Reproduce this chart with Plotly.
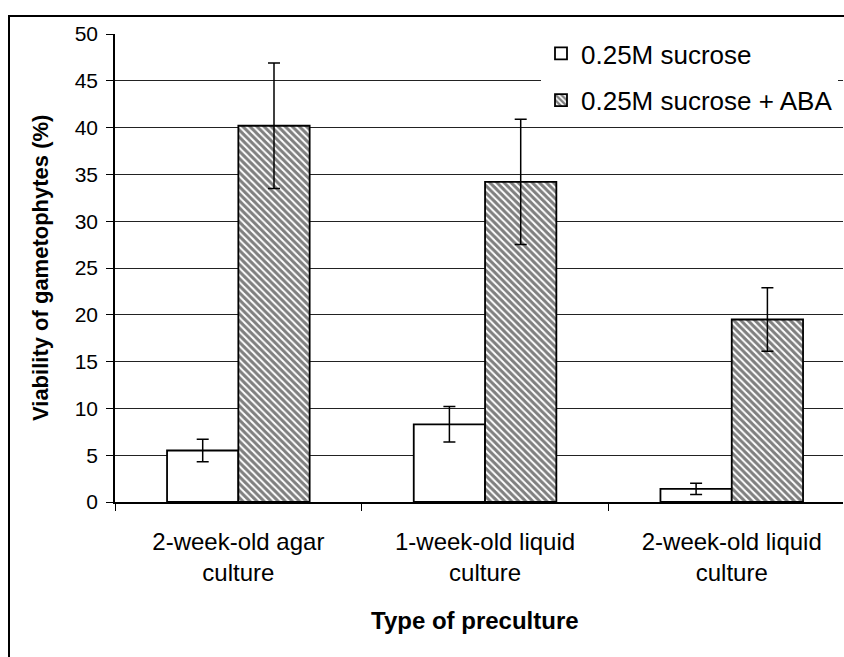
import plotly.graph_objects as go

# Preculture types and viability (%) with error values
categories = ["2-week-old agar<br>culture", "1-week-old liquid<br>culture", "2-week-old liquid<br>culture"]
sucrose = [5.5, 8.3, 1.4]
sucrose_err = [1.2, 1.9, 0.6]
sucrose_aba = [40.2, 34.2, 19.5]
sucrose_aba_err = [6.7, 6.7, 3.4]
y_ticks = [0, 5, 10, 15, 20, 25, 30, 35, 40, 45, 50]

FONT = "Arial, Liberation Sans, sans-serif"
W, H = 844, 657
ML, MR, MT, MB = 115, 1, 34, 155
PW = W - ML - MR
PH = H - MT - MB
CAT_PX = 246.7  # pixel width of one category slot

fig = go.Figure()
fig.add_trace(go.Bar(
    x=categories, y=sucrose, name="0.25M sucrose", legendgroup="a",
    marker=dict(color="white", line=dict(color="black", width=1.8)),
    error_y=dict(type="data", array=sucrose_err, color="black", thickness=1.5, width=6),
))
fig.add_trace(go.Bar(
    x=categories, y=sucrose_aba, name="0.25M sucrose + ABA", legendgroup="b",
    marker=dict(color="white", line=dict(color="black", width=1.8),
                pattern=dict(shape="\\", fgcolor="black", bgcolor="white", size=5, solidity=0.6)),
    error_y=dict(type="data", array=sucrose_aba_err, color="black", thickness=1.5, width=6),
))

def px_x(px):
    return (px - ML) / PW

def px_y(py):
    return (H - MB - py) / PH

fig.update_layout(
    width=W, height=H,
    margin=dict(l=ML, r=MR, t=MT, b=MB, autoexpand=False),
    paper_bgcolor="white", plot_bgcolor="white",
    barmode="group", bargap=0.422, bargroupgap=0,
    font=dict(family=FONT, color="black"),
    showlegend=True,
    legend=dict(x=px_x(541), y=px_y(30), xanchor="left", yanchor="top",
                bgcolor="white", borderwidth=0, font=dict(size=26, family=FONT),
                traceorder="grouped", tracegroupgap=10),
    xaxis=dict(
        type="category", range=[-0.5, -0.5 + PW / CAT_PX],
        showline=True, linecolor="black", linewidth=1.5,
        ticks="outside", tickson="boundaries", ticklen=7, tickcolor="black",
        tickfont=dict(size=24, family=FONT), ticklabelstandoff=17,
        showgrid=False,
    ),
    yaxis=dict(
        range=[0, 50], tickvals=y_ticks,
        showline=True, linecolor="black", linewidth=1.5,
        ticks="outside", ticklen=7, tickcolor="black",
        tickfont=dict(size=21, family=FONT), ticklabelstandoff=4,
        showgrid=True, gridcolor="#222", gridwidth=1, zeroline=False,
    ),
    annotations=[
        dict(text="<b>Viability of gametophytes (%)</b>", textangle=-90,
             xref="paper", yref="paper", x=px_x(40), y=px_y(268),
             xanchor="center", yanchor="middle", showarrow=False,
             font=dict(size=22, family=FONT)),
        dict(text="<b>Type of preculture</b>",
             xref="paper", yref="paper", x=px_x(475), y=px_y(620),
             xanchor="center", yanchor="middle", showarrow=False,
             font=dict(size=24, family=FONT)),
    ],
    shapes=[
        dict(type="rect", xref="paper", yref="paper",
             x0=px_x(9), y0=px_y(700), x1=px_x(900), y1=px_y(16),
             line=dict(color="black", width=2), fillcolor="rgba(0,0,0,0)", layer="above"),
    ],
)

fig.write_html("out.html")
